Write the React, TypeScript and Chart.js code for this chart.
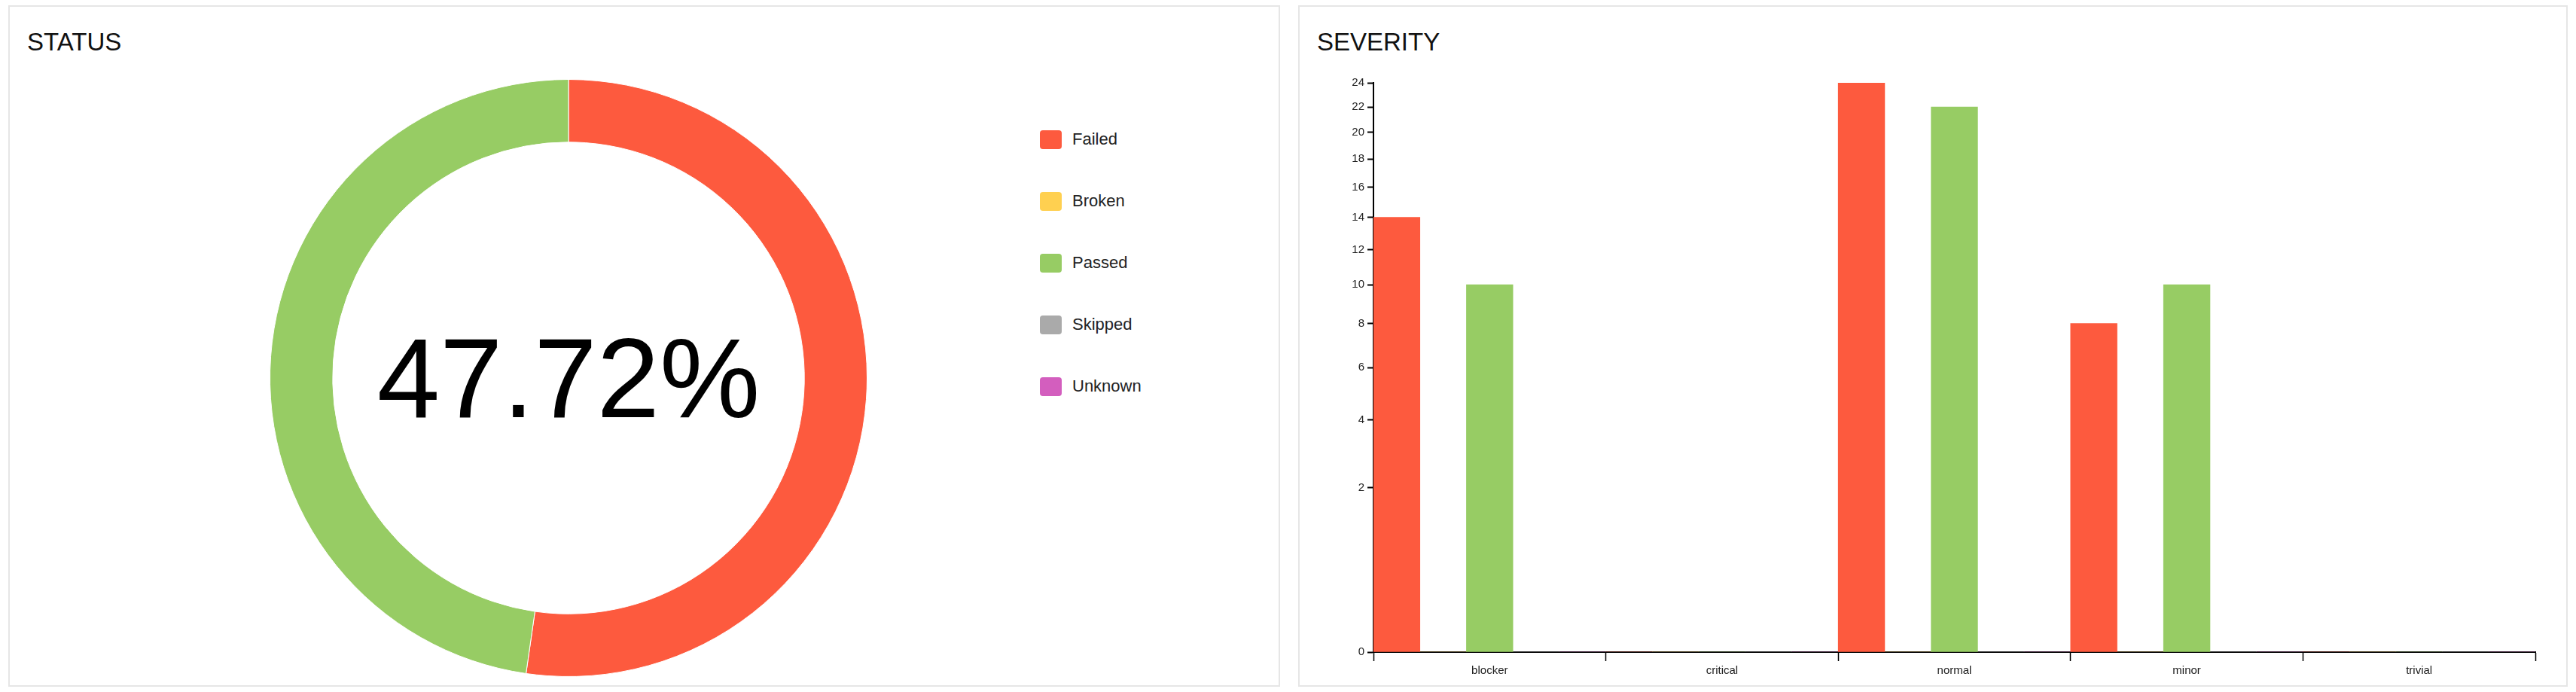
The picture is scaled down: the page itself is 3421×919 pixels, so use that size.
import React, { useEffect, useRef } from "react";
import { Chart, registerables, LinearScale } from "chart.js";

Chart.register(...registerables);

class SqrtScale extends LinearScale {
  static id = "sqrt";
  static defaults = (LinearScale as any).defaults;
  getPixelForValue(v: number) {
    const a = Math.sqrt(Math.max(this.min, 0));
    const b = Math.sqrt(this.max);
    return this.getPixelForDecimal((Math.sqrt(Math.max(v, 0)) - a) / (b - a));
  }
  getValueForPixel(p: number) {
    const a = Math.sqrt(Math.max(this.min, 0));
    const b = Math.sqrt(this.max);
    const s = a + this.getDecimalForPixel(p) * (b - a);
    return s * s;
  }
}
Chart.register(SqrtScale as any);

const statusLabels = ["Failed", "Broken", "Passed", "Skipped", "Unknown"];
const statusColors = ["#fd5a3e", "#ffd050", "#97cc64", "#aaaaaa", "#d35ebe"];
const statusCounts = [46, 0, 42, 0, 0];
const centerText = "47.72%";

const severityCategories = ["blocker", "critical", "normal", "minor", "trivial"];
const failedBySeverity = [14, 0, 24, 8, 0];
const brokenBySeverity = [0, 0, 0, 0, 0];
const passedBySeverity = [10, 0, 22, 10, 0];
const skippedBySeverity = [0, 0, 0, 0, 0];
const unknownBySeverity = [0, 0, 0, 0, 0];
const yTicks = [0, 2, 4, 6, 8, 10, 12, 14, 16, 18, 20, 22, 24];

const FONT = "'Liberation Sans', Arial, sans-serif";

export default function App() {
  const pieRef = useRef<HTMLCanvasElement>(null);
  const barRef = useRef<HTMLCanvasElement>(null);

  useEffect(() => {
    const pie = new Chart(pieRef.current!, {
      type: "doughnut",
      data: {
        labels: statusLabels,
        datasets: [{ data: statusCounts, backgroundColor: statusColors, borderColor: "#fff", borderWidth: 1 }],
      },
      options: {
        animation: false,
        responsive: false,
        cutout: "79%",
        layout: { padding: 3 },
        plugins: { legend: { display: false }, tooltip: { enabled: false } },
      },
    });
    const series = [failedBySeverity, brokenBySeverity, passedBySeverity, skippedBySeverity, unknownBySeverity];
    const bar = new Chart(barRef.current!, {
      type: "bar",
      data: {
        labels: severityCategories,
        datasets: series.map((d, i) => ({
          label: statusLabels[i],
          data: d,
          backgroundColor: statusColors[i],
          barPercentage: 1,
          categoryPercentage: 1,
        })),
      },
      options: {
        animation: false,
        responsive: false,
        layout: { padding: { top: 10, right: 10, left: 0, bottom: 0 } },
        plugins: { legend: { display: false }, tooltip: { enabled: false } },
        scales: {
          x: {
            offset: true,
            grid: { display: true, offset: true, drawOnChartArea: false, color: "#000", tickLength: 12, tickWidth: 1.5 },
            border: { color: "#000", width: 2 },
            ticks: { color: "#222", font: { family: FONT, size: 15 }, padding: 4 },
            afterFit: (s: any) => { s.height = 50; },
          },
          y: {
            type: "sqrt" as any,
            min: 0,
            max: 24,
            afterBuildTicks: (s: any) => { s.ticks = yTicks.map((v) => ({ value: v })); },
            grid: { display: true, drawOnChartArea: false, color: "#000", tickLength: 8, tickWidth: 2 },
            border: { color: "#000", width: 2 },
            ticks: { color: "#222", font: { family: FONT, size: 15 }, padding: 4 },
            afterFit: (s: any) => { s.width = 60; },
          } as any,
        },
      },
    });
    return () => { pie.destroy(); bar.destroy(); };
  }, []);

  const panel = (left: number, width: number): React.CSSProperties => ({
    position: "absolute", left, top: 7, width, height: 905, border: "2px solid #e6e6e6", boxSizing: "border-box",
  });
  const title: React.CSSProperties = { position: "absolute", left: 23, top: 28, fontSize: 33, fontFamily: FONT, color: "#111" };

  return (
    <div style={{ position: "fixed", left: 0, top: 0, width: 3421, height: 919, background: "#fff", fontFamily: FONT }}>
      <div style={panel(11, 1689)}>
        <div style={title}>STATUS</div>
      </div>
      <div style={panel(1724, 1686)}>
        <div style={title}>SEVERITY</div>
      </div>
      <canvas ref={pieRef} width={800} height={800} style={{ position: "absolute", left: 355, top: 102, width: 800, height: 800 }} />
      <div style={{ position: "absolute", left: 455, top: 502, width: 600, transform: "translateY(-50%)", textAlign: "center", fontSize: 150, color: "#000" }}>
        {centerText}
      </div>
      {statusLabels.map((l, i) => (
        <div key={l} style={{ position: "absolute", left: 1381, top: 170 + i * 82, height: 30, display: "flex", alignItems: "center" }}>
          <div style={{ width: 29, height: 25, borderRadius: 4, background: statusColors[i] }} />
          <span style={{ marginLeft: 14, fontSize: 22, color: "#222" }}>{l}</span>
        </div>
      ))}
      <canvas ref={barRef} width={1613} height={819} style={{ position: "absolute", left: 1764, top: 97, width: 1613, height: 819 }} />
    </div>
  );
}
